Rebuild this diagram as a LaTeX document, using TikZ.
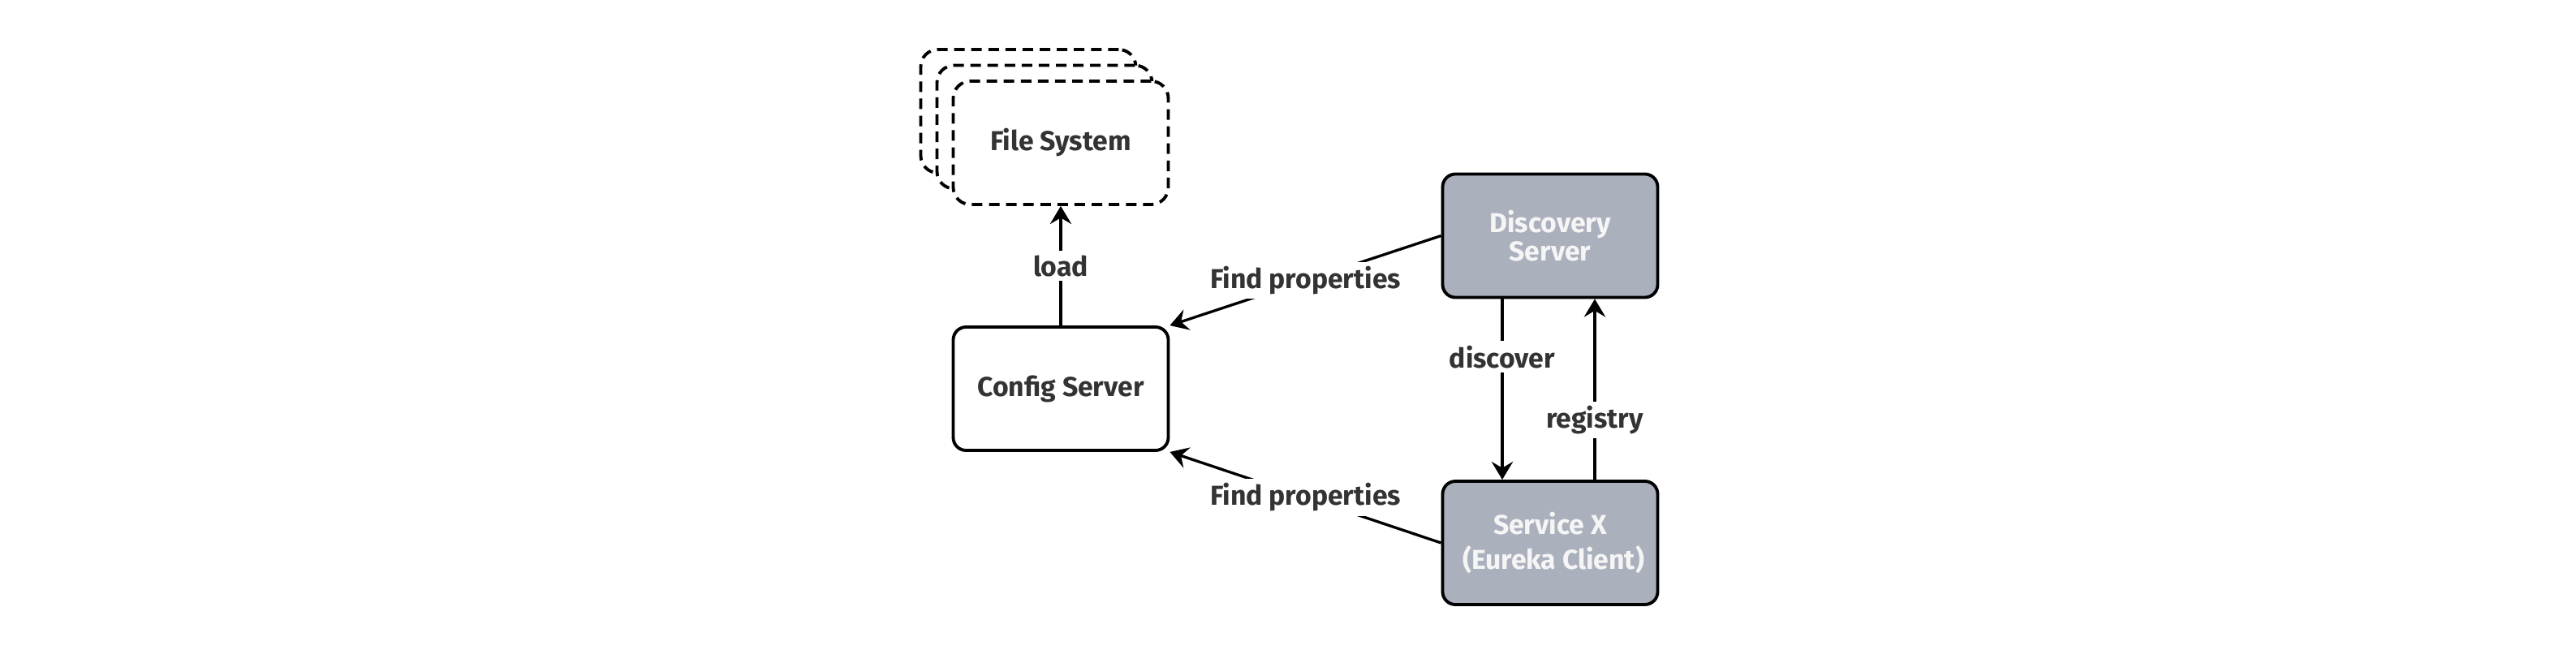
\documentclass[tikz,border=0pt]{standalone}
\usepackage{fontspec}
\setmainfont{Fira Sans}
\usetikzlibrary{positioning, arrows.meta}
\definecolor{boxgrey}{RGB}{171,176,189}
\definecolor{txtdark}{RGB}{51,51,51}
\tikzset{
  box/.style={draw=black, line width=1.1pt, rounded corners=4.5pt, minimum width=2.65cm,
    minimum height=1.52cm, align=center, text=txtdark, font=\fontsize{9.6}{10}\selectfont\bfseries},
  filebox/.style={box, fill=white, dash pattern=on 3.7pt off 2.3pt, rounded corners=6pt},
  greybox/.style={box, fill=boxgrey, text=white!96!black},
  conn/.style={line width=0.95pt, -{Stealth[length=6.3pt, width=7.5pt, inset=2.2pt]}},
  lbl/.style={fill=white, inner sep=1.5pt, text=txtdark, font=\fontsize{9.6}{10}\selectfont\bfseries}
}

\begin{document}
\begin{tikzpicture}
    \useasboundingbox (0, 0) rectangle (31.74, 8.16);

    \node[filebox] (fsback) at (12.67, 6.79) {};
    \node[filebox] (fsmid) at (12.87, 6.595) {};
    \node[filebox] (fs) at (13.07, 6.40) {File System};
    \node[box] (config) at (13.07, 3.37) {Config Server};
    \node[greybox] (disc) at (19.10, 5.255) {Discovery\\Server};
    \node[greybox] (svc) at (19.10, 1.47) {Service X\\[2pt]\ (Eureka Client)};

    \draw[conn] (config.north) -- node[lbl] {load} (fs.south);
    \draw[conn] (disc.west) -- node[lbl] {Find properties} (config.north east);
    \draw[conn] (svc.west) -- node[lbl] {Find properties} (config.south east);
    \draw[conn] ([xshift=-0.59cm]disc.south) -- node[lbl, pos=0.32] {discover} ([xshift=-0.59cm]svc.north);
    \draw[conn] ([xshift=0.55cm]svc.north) -- node[lbl, pos=0.33] {registry} ([xshift=0.55cm]disc.south);
\end{tikzpicture}
\end{document}
